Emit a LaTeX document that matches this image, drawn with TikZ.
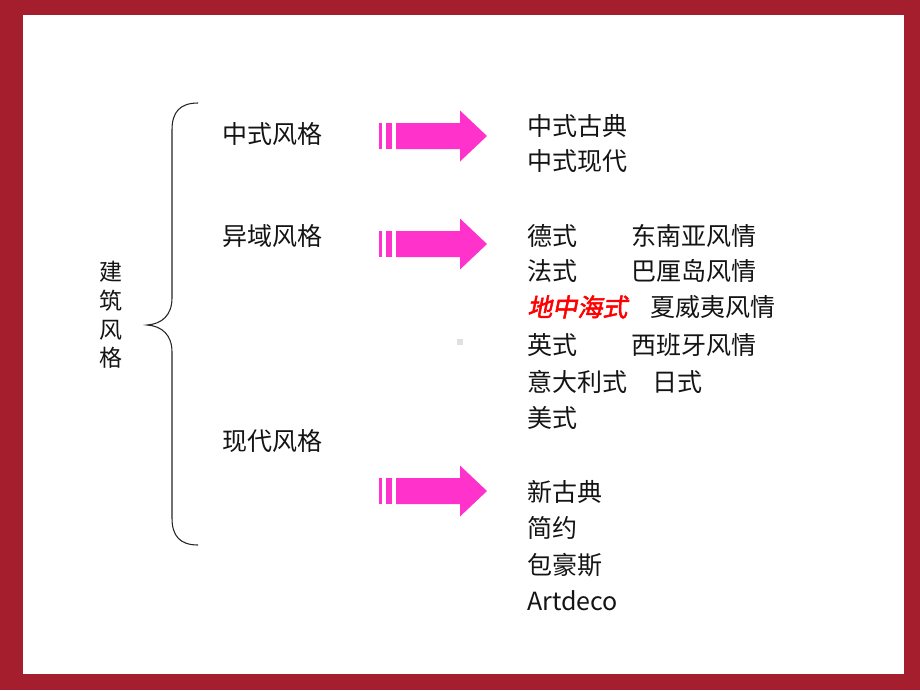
\documentclass[tikz,border=0pt]{standalone}
\usepackage{fontspec}
\usepackage{xcolor}
\usepackage{tikz}
\setmainfont{Noto Sans CJK SC}
\newfontfamily\cjkslant{Noto Sans CJK SC}[FakeSlant=0.2,FakeBold=2]
\definecolor{framered}{RGB}{165,30,45}
\definecolor{arrowpink}{RGB}{255,51,204}
\definecolor{inkblack}{RGB}{20,20,20}

\tikzset{
  pics/fatarrow/.style={code={
    \fill[arrowpink] (0,-13) rectangle (3,13);
    \fill[arrowpink] (7,-13) rectangle (13,13);
    \fill[arrowpink] (17,-13) -- (81,-13) -- (81,-25.5) -- (108,0) -- (81,25.5) -- (81,13) -- (17,13) -- cycle;
  }}
}

\begin{document}
\begin{tikzpicture}[
  x=0.75pt, y=-0.75pt,
  category/.style={anchor=west, inner sep=0pt, text=inkblack, font=\fontsize{18.75}{22}\selectfont},
  item/.style={anchor=west, inner sep=0pt, text=inkblack, font=\fontsize{18.75}{22}\selectfont},
  highlight/.style={anchor=west, inner sep=0pt, text=red, font=\cjkslant\fontsize{18.75}{22}\selectfont},
  bracket/.style={draw=black!85, line width=0.8pt}
]
\useasboundingbox (0,0) rectangle (920,690);

% Frame
\fill[framered] (0,0) rectangle (920,690);
\fill[white] (23,15) rectangle (904,674);

% Root label and brace
\node (jianzhu) [align=center, inner sep=0pt, text=inkblack, font=\fontsize{17.25}{21.4}\selectfont] at (111,315) {建\\筑\\风\\格};
\coordinate (bt) at (198,103);
\coordinate (bm) at (147,325);
\coordinate (bb) at (198,545);
\draw [bracket] (bt) .. controls (180,103) and (172,112) .. (172,130) -- (172,298)
  .. controls (172,315) and (162,324) .. (bm)
  .. controls (162,326) and (172,335) .. (172,352) -- (172,518)
  .. controls (172,536) and (180,545) .. (bb);

% Categories
\node (zhongshi) [category] at (222,134) {中式风格};
\node (yiyu) [category] at (222,236) {异域风格};
\node (xiandai) [category] at (222,441) {现代风格};

% Arrows
\pic (arrowzs) at (379,136) {fatarrow};
\pic (arrowyy) at (379,244) {fatarrow};
\pic (arrowxd) at (379,491) {fatarrow};

% Chinese styles
\node (gudian) [item] at (527,126) {中式古典};
\node (xdai) [item] at (527,161) {中式现代};

% Foreign styles
\node (deshi) [item] at (527,236) {德式};
\node (dongnanya) [item] at (631,236) {东南亚风情};
\node (fashi) [item] at (527,271) {法式};
\node (bali) [item] at (631,271) {巴厘岛风情};
\node (dizhonghai) [highlight] at (527,307) {地中海式};
\node (xiaweiyi) [item] at (650,307) {夏威夷风情};
\node (yingshi) [item] at (527,345) {英式};
\node (xibanya) [item] at (631,345) {西班牙风情};
\node (yidali) [item] at (527,382) {意大利式};
\node (rishi) [item] at (652,382) {日式};
\node (meishi) [item] at (527,418) {美式};

% Modern styles
\node (xingudian) [item] at (527,492) {新古典};
\node (jianyue) [item] at (527,528) {简约};
\node (baohaosi) [item] at (527,565) {包豪斯};
\node (artdeco) [item] at (527,601) {Artdeco};

\fill[black!12] (457,339) rectangle (463,345);
\end{tikzpicture}
\end{document}
